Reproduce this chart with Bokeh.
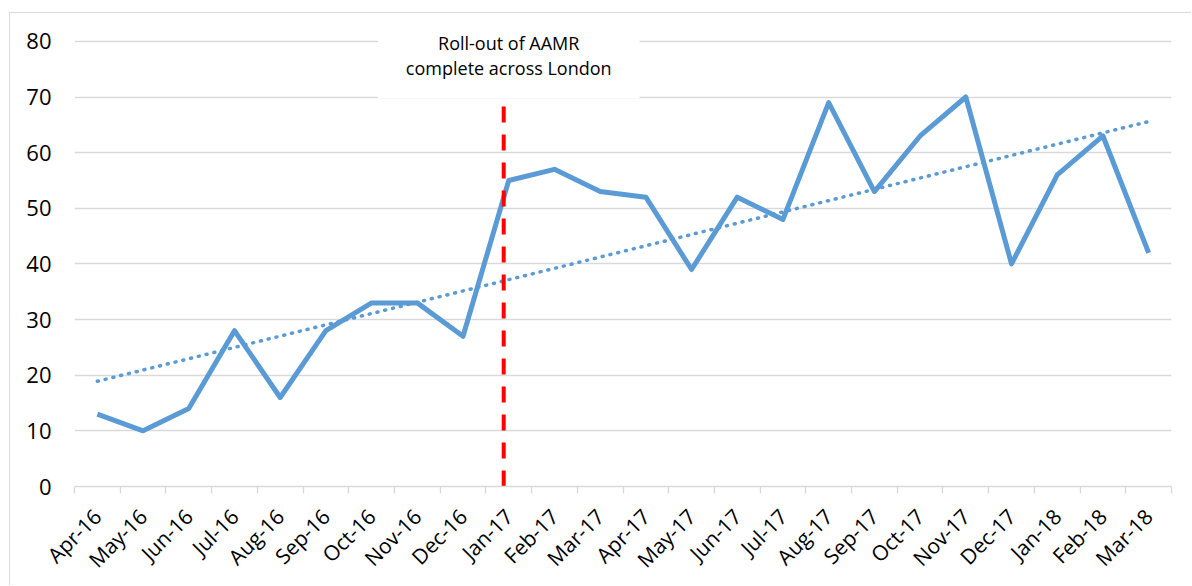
import numpy as np
from bokeh.plotting import figure
from bokeh.models import Range1d, FixedTicker, Label
from bokeh.embed import file_html
from bokeh.resources import INLINE

# Monthly counts, April 2016 to March 2018
months = ["Apr-16", "May-16", "Jun-16", "Jul-16", "Aug-16", "Sep-16", "Oct-16", "Nov-16",
          "Dec-16", "Jan-17", "Feb-17", "Mar-17", "Apr-17", "May-17", "Jun-17", "Jul-17",
          "Aug-17", "Sep-17", "Oct-17", "Nov-17", "Dec-17", "Jan-18", "Feb-18", "Mar-18"]
counts = [13, 10, 14, 28, 16, 28, 33, 33, 27, 55, 57, 53,
          52, 39, 52, 48, 69, 53, 63, 70, 40, 56, 63, 42]

rollout_month = "Jan-17"
rollout_marker_top = 68.5
rollout_text = "Roll-out of AAMR\ncomplete across London"

y_ticks = [0, 10, 20, 30, 40, 50, 60, 70, 80]

FONT = "Open Sans"
BLUE = "#5b9bd5"
GREY = "#d9d9d9"

x = np.arange(len(months))

# frame: 1097 x 475 px; the top 28 px above the 80 line hold the annotation
p = figure(width=1182, height=573, output_backend="svg", toolbar_location=None,
           x_range=Range1d(-0.5, len(months) - 0.5), y_range=Range1d(0, 85.01),
           min_border_left=64, min_border_right=21, min_border_top=0, min_border_bottom=98)
p.styles = {"margin-left": "9px", "margin-top": "12px",
            "border-left": f"1px solid {GREY}", "border-top": f"1px solid {GREY}"}
p.outline_line_color = None
p.background_fill_color = "white"
p.border_fill_color = "white"

# y axis: labels only, horizontal gridlines every 10
p.yaxis.ticker = FixedTicker(ticks=y_ticks)
p.yaxis.axis_line_color = None
p.yaxis.major_tick_line_color = None
p.yaxis.minor_tick_line_color = None
p.yaxis.major_tick_out = 0
p.yaxis.major_label_standoff = 23
p.yaxis.major_label_text_font = FONT
p.yaxis.major_label_text_font_size = "22px"
p.yaxis.major_label_text_color = "black"
p.ygrid.ticker = FixedTicker(ticks=y_ticks)
p.ygrid.grid_line_color = GREY
p.ygrid.grid_line_width = 1.3
p.xgrid.visible = False

# x axis: month labels under each point, tick marks between months
p.xaxis.ticker = FixedTicker(ticks=list(x), minor_ticks=[i - 0.5 for i in range(len(months) + 1)])
p.xaxis.major_label_overrides = {int(i): m for i, m in zip(x, months)}
p.xaxis.major_label_orientation = np.pi / 4
p.xaxis.major_tick_line_color = None
p.xaxis.major_tick_out = 0
p.xaxis.major_tick_in = 0
p.xaxis.minor_tick_line_color = GREY
p.xaxis.minor_tick_line_width = 1.3
p.xaxis.minor_tick_out = 7
p.xaxis.minor_tick_in = 0
p.xaxis.axis_line_color = GREY
p.xaxis.axis_line_width = 1.3
p.xaxis.major_label_standoff = 19
p.xaxis.major_label_text_font = FONT
p.xaxis.major_label_text_font_size = "21px"
p.xaxis.major_label_text_color = "black"

# linear trend of the monthly counts
slope, intercept = np.polyfit(x, counts, 1)
trend_x = [x[0], x[-1]]
p.line(trend_x, [slope * v + intercept for v in trend_x], line_color=BLUE, line_width=3.5,
       line_dash="1 7", line_cap="round")

# monthly series
p.line(x, counts, line_color=BLUE, line_width=5, line_join="round")

# roll-out marker, nudged just left of the month's point
rx = months.index(rollout_month)
marker_nudge = -0.11
p.segment(x0=[rx + marker_nudge], y0=[0], x1=[rx + marker_nudge], y1=[rollout_marker_top],
          line_color="#ff0000", line_width=4, line_dash="16 12")

p.add_layout(Label(x=rx, y=77.5, text=rollout_text, text_align="center", text_baseline="middle",
                   text_font=FONT, text_font_size="18px", text_color="black",
                   text_line_height=1.05, background_fill_color="white",
                   padding=dict(left=28, right=28, top=18, bottom=18)))

open("out.html", "w").write(file_html(p, INLINE))
